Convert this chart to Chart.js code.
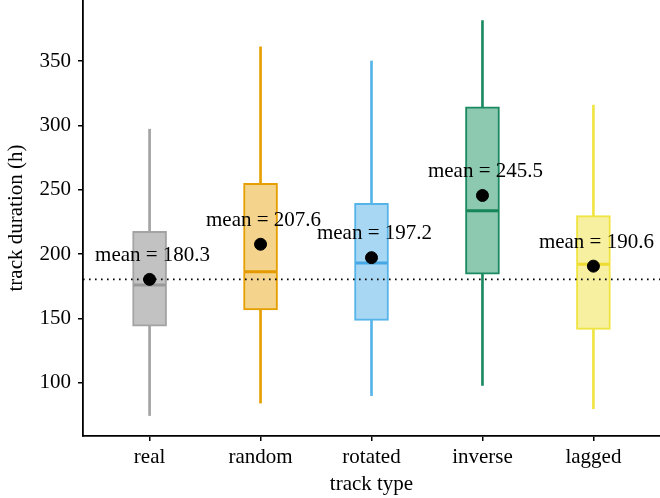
<!DOCTYPE html>
<html>
<head>
<meta charset="utf-8">
<script src="https://cdn.jsdelivr.net/npm/chart.js@4.4.1/dist/chart.umd.min.js"></script>
<style>
  body { margin: 0; background: #fff; }
  canvas { display: block; }
</style>
</head>
<body>
<canvas id="box-chart" width="660" height="498"></canvas>
<script>
// track duration summary per track type
const categories = ["real", "random", "rotated", "inverse", "lagged"];
const whiskerLow = [74.5, 84.2, 90.0, 97.9, 79.8];
const q1 = [144.0, 156.5, 148.4, 184.4, 141.4];
const medians = [176.0, 186.2, 193.0, 233.6, 192.0];
const q3 = [217.6, 255.0, 239.4, 314.4, 229.8];
const whiskerHigh = [297.0, 361.0, 350.0, 381.4, 315.7];
const means = [180.3, 207.6, 197.2, 245.5, 190.6];
const yTicks = [100, 150, 200, 250, 300, 350];

const lineColors = ["#a3a3a3", "#e69f00", "#56b4e9", "#1b8a60", "#f0e442"];
const fillColors = ["#c2c2c2", "#f4d48c", "#a8d7f4", "#8cc9b0", "#f7f0a0"];
const medianColors = ["#999999", "#e39a00", "#45a8e4", "#188559", "#eedc30"];

const serif = "'Liberation Serif', 'DejaVu Serif', serif";
const xs = categories.map((c, i) => i + 1);

const medianPlugin = {
  id: "medians",
  afterDatasetDraw(chart, args) {
    if (args.index !== 0) return;
    const { ctx, scales } = chart;
    const bars = chart.getDatasetMeta(0).data;
    ctx.save();
    ctx.lineWidth = 3;
    bars.forEach((bar, i) => {
      const y = scales.y.getPixelForValue(medians[i]);
      const half = bar.width / 2 - 1;
      ctx.strokeStyle = medianColors[i];
      ctx.beginPath();
      ctx.moveTo(bar.x - half, y);
      ctx.lineTo(bar.x + half, y);
      ctx.stroke();
    });
    ctx.restore();
  }
};

const meanLabels = {
  id: "meanLabels",
  afterDatasetsDraw(chart) {
    const { ctx, scales } = chart;
    ctx.save();
    ctx.font = "21px " + serif;
    ctx.fillStyle = "#000";
    ctx.textAlign = "center";
    ctx.textBaseline = "middle";
    means.forEach((m, i) => {
      const x = scales.x.getPixelForValue(xs[i]);
      const y = scales.y.getPixelForValue(m);
      ctx.fillText("mean = " + m.toFixed(1), x + 3, y - 24);
    });
    ctx.restore();
  }
};

new Chart(document.getElementById("box-chart"), {
  data: {
    datasets: [
      {
        type: "bar",
        data: xs.map((x, i) => ({ x, y: [q1[i], q3[i]] })),
        backgroundColor: fillColors,
        borderColor: lineColors,
        borderWidth: 2,
        borderSkipped: false,
        barThickness: 34,
        grouped: false,
        order: 3
      },
      {
        type: "bar",
        data: xs.map((x, i) => ({ x, y: [whiskerLow[i], q1[i]] })),
        backgroundColor: lineColors,
        barThickness: 2,
        grouped: false,
        order: 4
      },
      {
        type: "bar",
        data: xs.map((x, i) => ({ x, y: [q3[i], whiskerHigh[i]] })),
        backgroundColor: lineColors,
        barThickness: 2,
        grouped: false,
        order: 4
      },
      {
        type: "line",
        data: [{ x: 0.4, y: means[0] }, { x: 5.6, y: means[0] }],
        borderColor: "#000",
        borderWidth: 1.6,
        borderDash: [1.6, 4.4],
        pointRadius: 0,
        order: 2
      },
      {
        type: "scatter",
        data: xs.map((x, i) => ({ x, y: means[i] })),
        backgroundColor: "#000",
        borderColor: "#000",
        pointRadius: 6,
        order: 1
      }
    ]
  },
  options: {
    responsive: false,
    animation: false,
    layout: { autoPadding: false, padding: 0 },
    plugins: { legend: { display: false }, tooltip: { enabled: false } },
    scales: {
      x: {
        type: "linear",
        min: 0.4,
        max: 5.6,
        offset: false,
        afterBuildTicks: s => { s.ticks = xs.map(v => ({ value: v })); },
        afterFit: s => {
          s.height = 62;
          s.paddingLeft = 0;
          s.paddingRight = 0;
        },
        grid: { offset: false, drawOnChartArea: false, drawTicks: true, tickLength: 5, color: "#000", lineWidth: 1.5 },
        border: { display: true, color: "#000", width: 1.8 },
        ticks: {
          color: "#000",
          font: { family: serif, size: 21 },
          padding: 4,
          maxRotation: 0,
          callback: v => categories[v - 1]
        },
        title: {
          display: true,
          text: "track type",
          color: "#000",
          font: { family: serif, size: 21 },
          padding: { top: 0, bottom: 1 }
        }
      },
      y: {
        type: "linear",
        min: 58.6,
        max: 397.4,
        afterBuildTicks: s => { s.ticks = yTicks.map(v => ({ value: v })); },
        afterFit: s => {
          s.width = 83;
          s.paddingTop = 0;
          s.paddingBottom = 0;
        },
        grid: { drawOnChartArea: false, drawTicks: true, tickLength: 5, color: "#000", lineWidth: 1.5 },
        border: { display: true, color: "#000", width: 1.8 },
        ticks: {
          color: "#000",
          font: { family: serif, size: 21 },
          padding: 7
        },
        title: {
          display: true,
          text: "track duration (h)",
          color: "#000",
          font: { family: serif, size: 21 },
          padding: { top: 4, bottom: 0 }
        }
      }
    }
  },
  plugins: [medianPlugin, meanLabels]
});
</script>
</body>
</html>
